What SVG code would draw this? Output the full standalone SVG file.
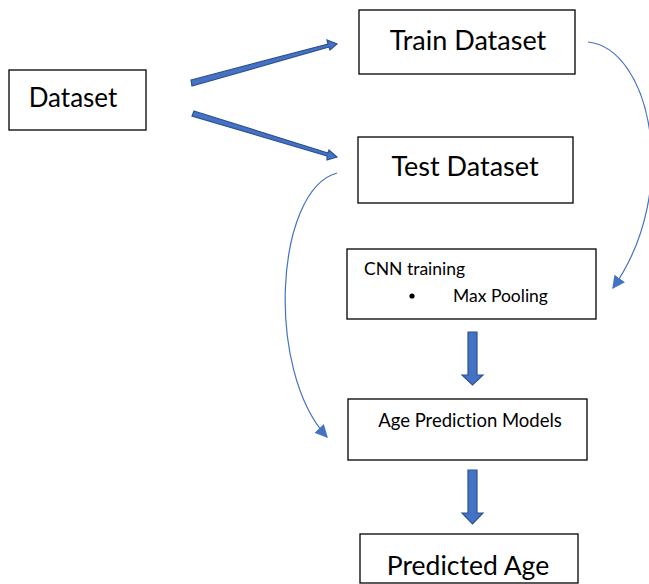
<svg xmlns="http://www.w3.org/2000/svg" width="649" height="584" viewBox="0 0 649 584">
<defs>
<style>
.box{fill:#fff;stroke:#000;stroke-width:1.3}
.t{font-family:Lato,"Open Sans",sans-serif;fill:#000;font-variant-ligatures:none;font-feature-settings:"liga" 0}
.curve{fill:none;stroke:#4472C4;stroke-width:1.2}
.blk{fill:#4472C4;stroke:#2F528F;stroke-width:1.2}
</style>
<marker id="tri" viewBox="0 0 10 10" refX="9" refY="5" markerWidth="13" markerHeight="13" markerUnits="userSpaceOnUse" orient="auto">
<path d="M0,0 L10,5 L0,10 Z" fill="#4472C4"/>
</marker>
</defs>
<rect width="649" height="584" fill="#fff"/>
<g id="connectors">
<path class="blk" d="M191,80 L328,44 L327,40 L337,44 L330,50 L329,47 L192,86 Z"/>
<path class="blk" d="M194,111 L328,153 L329,150 L337,157 L327,160 L327,156 L192,116 Z"/>
<path class="curve" d="M588,42 C650,48 682,190 613,288" marker-end="url(#tri)"/>
<path class="curve" d="M337,173 C275,190 265,370 327,437" marker-end="url(#tri)"/>
<path class="blk" d="M468,332 L477,332 L477,375 L483,375 L472.5,385 L462,375 L468,375 Z"/>
<path class="blk" d="M468,470 L477,470 L477,513 L483,513 L472.5,524 L462,513 L468,513 Z"/>
</g>
<g id="dataset">
<rect class="box" x="9" y="70" width="137" height="60"/>
<text class="t" x="73" y="107" font-size="26" text-anchor="middle">Dataset</text>
</g>
<g id="train">
<rect class="box" x="359" y="10" width="216" height="64"/>
<text class="t" x="468" y="50" font-size="27" text-anchor="middle">Train Dataset</text>
</g>
<g id="test">
<rect class="box" x="358" y="137" width="215" height="66"/>
<text class="t" x="465" y="176" font-size="27" text-anchor="middle">Test Dataset</text>
</g>
<g id="cnn">
<rect class="box" x="347" y="249" width="249" height="70"/>
<text class="t" x="364" y="275" font-size="17.5">CNN training</text>
<circle cx="412" cy="296" r="2.6" fill="#000"/>
<text class="t" x="453" y="302" font-size="17.5">Max Pooling</text>
</g>
<g id="models">
<rect class="box" x="348" y="399" width="239" height="61"/>
<text class="t" x="470" y="427" font-size="18.5" text-anchor="middle">Age Prediction Models</text>
</g>
<g id="predicted">
<rect class="box" x="360" y="534" width="218" height="49"/>
<text class="t" x="468" y="575" font-size="26.5" text-anchor="middle">Predicted Age</text>
</g>
</svg>
